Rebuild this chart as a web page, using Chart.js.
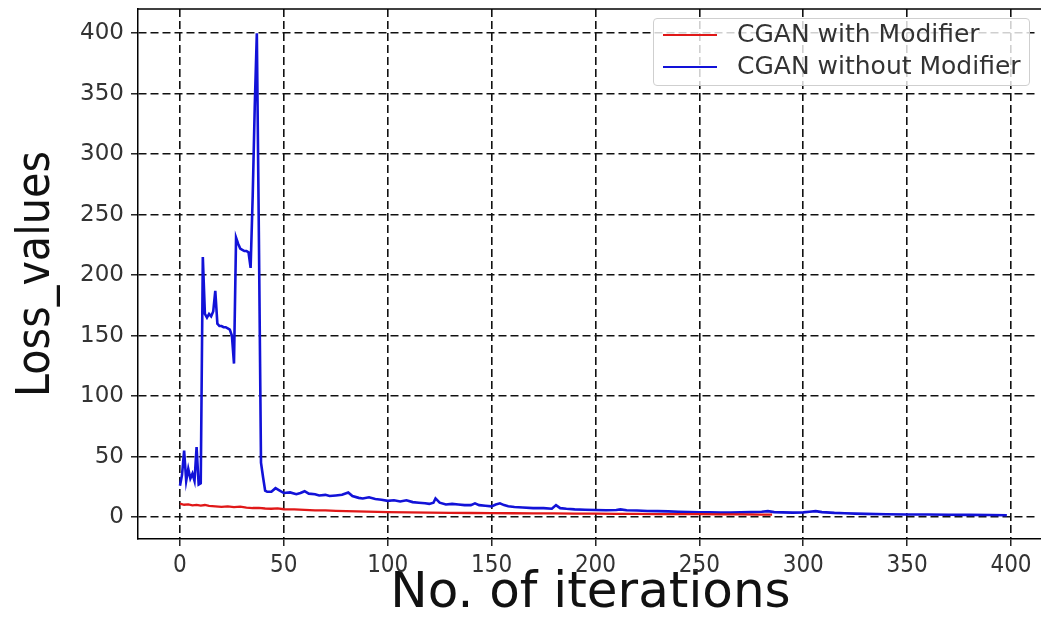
<!DOCTYPE html>
<html>
<head>
<meta charset="utf-8">
<script src="https://cdn.jsdelivr.net/npm/chart.js@4.4.1/dist/chart.umd.min.js"></script>
<style>
    html, body { margin: 0; background: #fff; overflow: hidden; width: 1041px; height: 617px; }
    #wrap { position: absolute; left: 0; top: 0; width: 1043px; height: 617px; }
    #legend {
        position: absolute; left: 653px; top: 18px; width: 375px; height: 66px;
        border: 1px solid #cfcfcf; border-radius: 4px; background: rgba(255, 255, 255, 0.8);
        font-family: 'DejaVu Sans', sans-serif; font-size: 25px; color: #333;
    }
    .item { position: absolute; left: 9px; height: 28px; line-height: 28px; white-space: nowrap; }
    .item span.line { display: inline-block; width: 54px; height: 2px; vertical-align: middle; margin-right: 20px; }
</style>
</head>
<body>
<div id="wrap"><canvas id="chart"></canvas></div>
<div id="legend">
    <div class="item" style="top: 1px;"><span class="line" style="background:#e01818"></span>CGAN with Modifier</div>
    <div class="item" style="top: 33px;"><span class="line" style="background:#1212d8"></span>CGAN without Modifier</div>
</div>
<script>
const xTicks = [0, 50, 100, 150, 200, 250, 300, 350, 400];
const yTicks = [0, 50, 100, 150, 200, 250, 300, 350, 400];

// CGAN without Modifier (blue)
const blueX = [
    0, 1, 2, 3, 4, 5, 6, 7, 8, 9, 10, 11, 12, 13, 14, 15, 16, 17, 18, 19, 20,
    21, 22, 23, 24, 25, 26, 27, 28, 29, 30, 31, 32, 33, 34, 35, 36, 37, 38, 39, 40, 41, 42,
    44, 46, 48, 50, 53, 56, 58, 60, 62, 65, 67, 70, 72, 75, 78, 81, 83, 86, 88, 91, 94, 97,
    100, 103, 106, 109, 112, 115, 118, 120, 122, 123, 125, 128, 131, 134, 137, 140, 142, 144,
    147, 150, 152, 154, 156, 158, 161, 165, 170, 175, 179, 181, 183, 186, 190, 195, 200, 205,
    210, 212, 215, 220, 225, 230, 235, 240, 245, 250, 255, 260, 265, 270, 275, 280, 283, 286,
    290, 295, 300, 303, 306, 309, 315, 320, 325, 330, 340, 350, 360, 370, 380, 390, 398
];
const blueY = [
    26, 35, 55, 30, 40, 32, 36, 30, 58, 27, 28, 215, 168, 165, 168, 166, 170, 187, 160, 158, 158,
    157, 157, 156, 155, 150, 127, 231, 226, 222, 221, 220, 220, 219, 206, 265, 340, 400, 230, 45, 33, 22, 21,
    21, 24, 22, 20, 20.5, 19, 20, 21.5, 19.5, 19, 18, 18.5, 17.5, 18, 18.5, 20.5, 17.5, 16, 15.5, 16.5, 15, 14.5,
    13.5, 14, 13, 14, 12.5, 12, 11.5, 11, 12, 15.5, 12, 10.5, 11, 10.5, 10, 10, 11.5, 10,
    9.5, 9, 10.5, 11.5, 10, 9, 8.5, 8, 7.5, 7.5, 7, 10, 7.5, 7, 6.5, 6.2, 6, 5.8,
    6, 6.5, 5.8, 5.5, 5.2, 5, 4.8, 4.5, 4.3, 4, 4, 3.8, 3.8, 4, 4.2, 4.5, 5, 4.2,
    4, 3.8, 4, 4.5, 5, 4.2, 3.6, 3.3, 3, 2.8, 2.5, 2.3, 2.2, 2, 1.9, 1.8, 1.6
];

// CGAN with Modifier (red)
const redX = [
    0, 2, 4, 6, 8, 10, 12, 14, 17, 20, 23, 26, 29, 32, 35, 38, 41, 44, 47, 50, 55, 60, 65, 70,
    75, 80, 85, 90, 95, 100, 110, 120, 130, 140, 150, 160, 170, 180, 190, 200, 210, 220, 230,
    240, 250, 260, 270, 280, 285
];
const redY = [
    11.2, 10.3, 10.6, 9.8, 10.2, 9.6, 10.1, 9.4, 9.0, 8.6, 8.9, 8.4, 8.7, 8.0, 7.6, 7.8, 7.2, 7.0, 7.3, 6.6, 6.4, 6.1, 5.7, 5.6,
    5.3, 5.1, 4.9, 4.6, 4.4, 4.2, 4.0, 3.8, 3.6, 3.5, 3.4, 3.3, 3.2, 3.1, 3.0, 2.9, 2.8, 2.7, 2.6,
    2.6, 2.5, 2.4, 2.3, 2.2, 2.2
];

const toPoints = (xs, ys) => xs.map((x, i) => ({ x, y: ys[i] }));

// frame: keep the top spine, drop the right one (it is cut off in the original)
const framePlugin = {
    id: 'frame',
    afterDraw(chart) {
        const { ctx, chartArea } = chart;
        ctx.save();
        ctx.fillStyle = '#fff';
        ctx.fillRect(1037, chartArea.top + 1, 20, chartArea.bottom - chartArea.top - 2);
        ctx.strokeStyle = '#000';
        ctx.lineWidth = 1.5;
        ctx.beginPath();
        ctx.moveTo(chartArea.left, chartArea.top);
        ctx.lineTo(chartArea.right, chartArea.top);
        ctx.stroke();
        ctx.restore();
    },
};

const gridOpts = { color: '#111', lineWidth: 1.6, tickLength: 7, tickColor: '#000', tickWidth: 1.3 };

new Chart(document.getElementById('chart'), {
    type: 'line',
    data: {
        datasets: [
            { label: 'CGAN with Modifier', data: toPoints(redX, redY), borderColor: '#e01818', borderWidth: 2.3, pointRadius: 0, tension: 0 },
            { label: 'CGAN without Modifier', data: toPoints(blueX, blueY), borderColor: '#1212d8', borderWidth: 2.6, pointRadius: 0, tension: 0 },
        ],
    },
    options: {
        responsive: true,
        maintainAspectRatio: false,
        animation: false,
        layout: { padding: { top: 9, right: 0, left: 0, bottom: 0 } },
        plugins: { legend: { display: false }, tooltip: { enabled: false } },
        scales: {
            x: {
                type: 'linear',
                min: -20.2,
                max: 415.4,
                afterBuildTicks: (s) => { s.ticks = xTicks.map((v) => ({ value: v })); },
                afterFit: (s) => { s.height = 78; s.paddingLeft = 0; s.paddingRight = 0; },
                grid: gridOpts,
                border: { display: true, color: '#000', width: 1.5, dash: [8, 4] },
                ticks: { color: '#333', padding: 5, maxRotation: 0, font: { family: "'DejaVu Sans Condensed', 'Liberation Sans Narrow', 'DejaVu Sans'", size: 24 } },
                title: { display: true, text: 'No. of iterations', color: '#111', padding: { top: 0, bottom: 0 }, font: { family: "'DejaVu Sans'", size: 50, lineHeight: 0.9 } },
            },
            y: {
                min: -18,
                max: 420,
                afterBuildTicks: (s) => { s.ticks = yTicks.map((v) => ({ value: v })); },
                afterFit: (s) => { s.width = 138; s.paddingTop = 0; s.paddingBottom = 0; },
                grid: gridOpts,
                border: { display: true, color: '#000', width: 1.5, dash: [8, 4] },
                ticks: { color: '#333', padding: 7, font: { family: "'DejaVu Sans'", size: 23 } },
                title: { display: true, text: 'Loss_values', color: '#111', padding: { top: 14, bottom: 0 }, font: { family: "'DejaVu Sans Condensed', 'DejaVu Sans'", size: 46, lineHeight: 1 } },
            },
        },
    },
    plugins: [framePlugin],
});
</script>
</body>
</html>
